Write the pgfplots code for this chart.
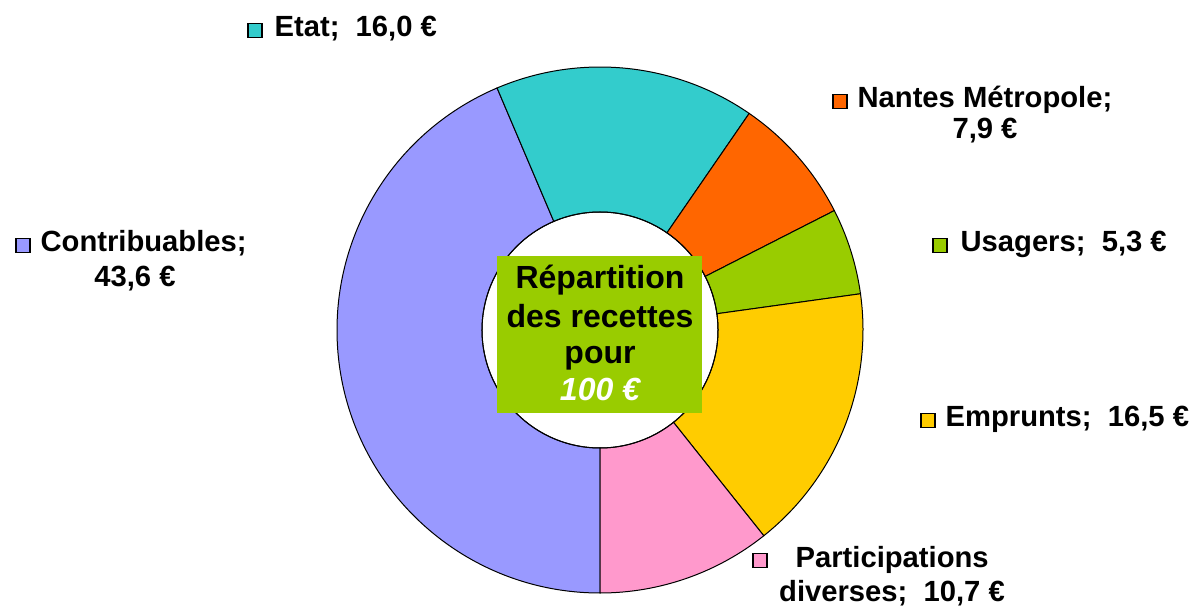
\documentclass[border=0pt]{standalone}
\usepackage{fontspec}
\setmainfont{Liberation Sans}
\usepackage{pgfplots}
\usepackage{pgfplotstable}
\pgfplotsset{compat=1.18}

\definecolor{c0}{HTML}{9999FF}
\definecolor{c1}{HTML}{33CCCC}
\definecolor{c2}{HTML}{FF6600}
\definecolor{c3}{HTML}{99CC00}
\definecolor{c4}{HTML}{FFCC00}
\definecolor{c5}{HTML}{FF99CC}
\definecolor{boxgreen}{HTML}{99CC00}

% recettes pour 100 euros, clockwise from 6 o'clock
\pgfplotstableread{
name v
Contribuables 43.6
Etat 16.0
Nantes 7.9
Usagers 5.3
Emprunts 16.5
Participations 10.7
}\recettes
\pgfplotstablecreatecol[create col/expr accum={\pgfmathaccuma+\thisrow{v}}{0}]{cum}{\recettes}

\newcommand\key[1]{\raisebox{0.2pt}{\setlength\fboxsep{0pt}\setlength\fboxrule{0.6pt}\fcolorbox{black}{#1}{\rule{0pt}{6.4pt}\rule{6.4pt}{0pt}}}}
\newcommand\lab{\fontsize{14.6}{17}\selectfont\bfseries}
\newcommand\midfont{\fontsize{16}{18}\selectfont\bfseries}

\begin{document}
\begin{tikzpicture}
\begin{axis}[
    x=0.5pt, y=0.5pt,
    xmin=0, xmax=1198, ymin=0, ymax=610,
    hide axis, clip=false,
]
\path (axis cs:0,0) rectangle (axis cs:1198,610);
\pgfplotsinvokeforeach{0,...,5}{
  \pgfplotstablegetelem{#1}{v}\of\recettes
  \pgfmathsetmacro\vv{\pgfplotsretval}
  \pgfplotstablegetelem{#1}{cum}\of\recettes
  \pgfmathsetmacro\cc{\pgfplotsretval}
  \pgfmathsetmacro\aend{270-3.6*\cc}
  \pgfmathsetmacro\astart{\aend+3.6*\vv}
  \edef\temp{\noexpand\filldraw[fill=c#1, draw=black, line width=0.5pt]
    ([shift={(\astart:131.5pt)}]axis cs:600,280) arc[start angle=\astart, end angle=\aend, radius=131.5pt]
    -- ([shift={(\aend:59pt)}]axis cs:600,280) arc[start angle=\aend, end angle=\astart, radius=59pt] -- cycle;}
  \temp
}
\draw[line width=0.5pt] (axis cs:600,280) circle[radius=59pt];
\fill[boxgreen] (axis cs:497,197) rectangle (axis cs:702,354);

\node[anchor=base, font=\midfont, inner sep=0pt] at (axis cs:600,321) {Répartition};
\node[anchor=base, font=\midfont, inner sep=0pt] at (axis cs:600,282) {des recettes};
\node[anchor=base, font=\midfont, inner sep=0pt] at (axis cs:600,246) {pour};
\node[anchor=base, font=\midfont\itshape, text=white, inner sep=0pt] at (axis cs:600,209) {100 €};

% labels
\node[anchor=base west, font=\lab, inner sep=0pt] at (axis cs:247,573) {\key{c1}\hspace{6pt}Etat;\ \ 16,0 €};
\node[anchor=base west, font=\lab, inner sep=0pt] at (axis cs:832,502) {\key{c2}\hspace{5pt}Nantes Métropole;};
\node[anchor=base, font=\lab, inner sep=0pt] at (axis cs:985,471) {7,9 €};
\node[anchor=base west, font=\lab, inner sep=0pt] at (axis cs:932,358) {\key{c3}\hspace{6.5pt}Usagers;\ \ 5,3 €};
\node[anchor=base west, font=\lab, inner sep=0pt] at (axis cs:920,183) {\key{c4}\hspace{5pt}Emprunts;\ \ 16,5 €};
\node[anchor=base west, font=\lab, inner sep=0pt] at (axis cs:752,43) {\key{c5}\hspace{14pt}Participations};
\node[anchor=base, font=\lab, inner sep=0pt] at (axis cs:892,9) {diverses;\ \ 10,7 €};
\node[anchor=base west, font=\lab, inner sep=0pt] at (axis cs:15,358) {\key{c0}\hspace{5pt}Contribuables;};
\node[anchor=base, font=\lab, inner sep=0pt] at (axis cs:135,323) {43,6 €};
\end{axis}
\end{tikzpicture}
\end{document}
